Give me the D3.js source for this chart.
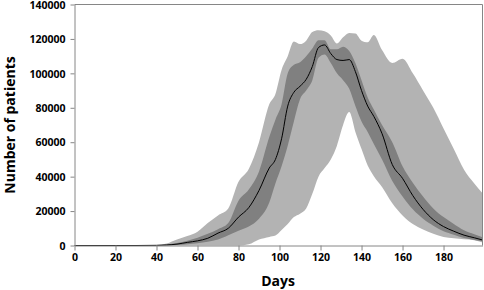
<!DOCTYPE html>
<html>
<head>
<meta charset="utf-8">
<script src="https://cdn.jsdelivr.net/npm/d3@7"></script>
<style>
  body { margin: 0; background: #fff; }
  svg { display: block; }
  .axis text { font-family: "Open Sans", sans-serif; font-weight: 700; font-size: 10.5px; fill: #000; }
  .axis line, .axis path { stroke: #868686; }
</style>
</head>
<body>
<svg id="chart" width="484" height="290"></svg>
<script>
// days sampled along the curves
var days = [0, 30, 40, 45, 50, 55, 60, 65, 70, 75, 80, 85, 90, 95, 98, 101, 104, 107, 110, 113, 116, 119, 122, 125, 128, 131, 134, 137, 140, 143, 146, 150, 155, 160, 165, 170, 175, 180, 185, 190, 195, 199];

// median number of patients
var median = [0, 0, 100, 300, 800, 1800, 2700, 4200, 7200, 10000, 16500, 22000, 32000, 45000, 50000, 62000, 81000, 89000, 92500, 96500, 104000, 115000, 116500, 111500, 108000, 107500, 108000, 101000, 90000, 81000, 75000, 65000, 47000, 39000, 29000, 21000, 15000, 11000, 8300, 6000, 4500, 3200];

// inner band (dark)
var innerHigh = [0, 0, 200, 600, 1500, 2800, 4500, 6800, 9500, 13000, 26000, 32500, 43000, 63000, 73000, 82000, 100000, 105000, 106500, 110000, 114500, 119300, 119300, 114000, 114000, 115500, 113000, 106000, 96000, 86000, 79000, 70000, 60000, 46000, 36500, 28500, 21500, 16500, 12500, 8800, 6500, 4800];
var innerLow = [0, 0, 0, 100, 300, 700, 1300, 2200, 3500, 6000, 8500, 11000, 15500, 25000, 36000, 46000, 58000, 72000, 85000, 90000, 96000, 109000, 111000, 106000, 100000, 96000, 91000, 81000, 72000, 66000, 59000, 50000, 37500, 28500, 21000, 15500, 11500, 8300, 6300, 4300, 3200, 2500];

// outer band (light)
var outerHigh = [0, 0, 300, 1200, 3500, 5500, 8000, 13000, 17500, 21500, 37000, 44500, 60000, 82000, 88000, 102000, 110000, 118500, 117000, 119000, 124000, 125000, 124500, 122000, 117400, 121000, 123500, 123200, 119000, 118000, 122300, 113500, 106000, 108500, 100000, 90000, 80000, 68000, 56000, 44000, 36000, 30300];
var outerLow = [0, 0, 0, 0, 0, 0, 0, 0, 0, 0, 0, 700, 3500, 5000, 5800, 9000, 12500, 16500, 18500, 21500, 30000, 40000, 45000, 50000, 58000, 70000, 77500, 66000, 56000, 46500, 40300, 34000, 24500, 17500, 12500, 9300, 6800, 5000, 4200, 3600, 3100, 1800];

var xTicks = [0, 20, 40, 60, 80, 100, 120, 140, 160, 180];
var yTicks = [0, 20000, 40000, 60000, 80000, 100000, 120000, 140000];

var svg = d3.select("#chart");

var x = d3.scaleLinear().domain([0, 199]).range([74.5, 482.5]);
var y = d3.scaleLinear().domain([0, 140000]).range([245.5, 4.5]);

var rows = days.map(function(d, i) {
  return {day: d, med: median[i], iHi: innerHigh[i], iLo: innerLow[i], oHi: outerHigh[i], oLo: outerLow[i]};
});

var outerArea = d3.area()
    .x(function(d) { return x(d.day); })
    .y0(function(d) { return y(d.oLo); })
    .y1(function(d) { return y(d.oHi); })
    .curve(d3.curveMonotoneX);
var innerArea = d3.area()
    .x(function(d) { return x(d.day); })
    .y0(function(d) { return y(d.iLo); })
    .y1(function(d) { return y(d.iHi); })
    .curve(d3.curveMonotoneX);
var medLine = d3.line()
    .x(function(d) { return x(d.day); })
    .y(function(d) { return y(d.med); })
    .curve(d3.curveMonotoneX);

svg.append("path").datum(rows).attr("d", outerArea).attr("fill", "#b3b3b3");
svg.append("path").datum(rows).attr("d", innerArea).attr("fill", "#808080");
svg.append("path").datum(rows).attr("d", medLine)
    .attr("fill", "none").attr("stroke", "#000").attr("stroke-width", 1);

// frame top + right
svg.append("path")
    .attr("d", "M" + x(0) + "," + y(140000) + "H" + x(199) + "V" + y(0))
    .attr("fill", "none").attr("stroke", "#868686");

svg.append("g")
    .attr("class", "axis")
    .attr("transform", "translate(0," + y(0) + ")")
    .call(d3.axisBottom(x).tickValues(xTicks).tickSize(5).tickSizeOuter(0).tickPadding(3));

svg.append("g")
    .attr("class", "axis")
    .attr("transform", "translate(" + x(0) + ",0)")
    .call(d3.axisLeft(y).tickValues(yTicks).tickSize(4).tickSizeOuter(0).tickPadding(5).tickFormat(d3.format("d")))
  .selectAll("text")
    .attr("dy", "0.36em");

svg.append("text")
    .attr("x", 278).attr("y", 286)
    .attr("text-anchor", "middle")
    .attr("font-family", "Open Sans, sans-serif").attr("font-weight", 700).attr("font-size", 14)
    .text("Days");

svg.append("text")
    .attr("transform", "translate(15,125) rotate(-90)")
    .attr("text-anchor", "middle")
    .attr("font-family", "Open Sans, sans-serif").attr("font-weight", 700).attr("font-size", 14)
    .text("Number of patients");
</script>
</body>
</html>
